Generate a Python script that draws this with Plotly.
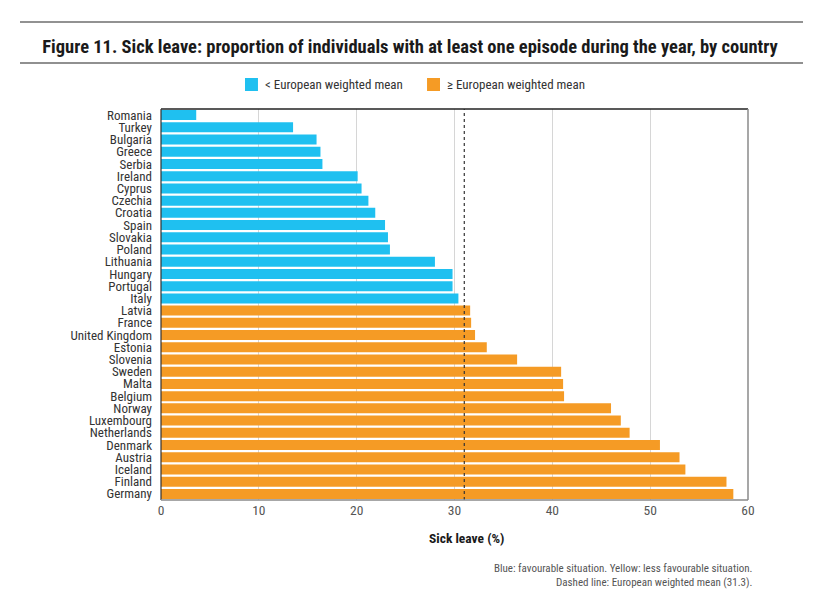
import plotly.graph_objects as go

# Figure 11: sick leave, share of individuals with at least one episode in the year
COUNTRIES = ['Romania', 'Turkey', 'Bulgaria', 'Greece', 'Serbia', 'Ireland', 'Cyprus',
             'Czechia', 'Croatia', 'Spain', 'Slovakia', 'Poland', 'Lithuania', 'Hungary',
             'Portugal', 'Italy', 'Latvia', 'France', 'United Kingdom', 'Estonia',
             'Slovenia', 'Sweden', 'Malta', 'Belgium', 'Norway', 'Luxembourg',
             'Netherlands', 'Denmark', 'Austria', 'Iceland', 'Finland', 'Germany']
SICK_LEAVE = [3.6, 13.5, 15.9, 16.3, 16.5, 20.1, 20.5, 21.2, 21.9, 22.9, 23.2, 23.4,
              28.0, 29.8, 29.8, 30.4, 31.6, 31.7, 32.1, 33.3, 36.4, 40.9, 41.1, 41.2,
              46.0, 47.0, 47.9, 51.0, 53.0, 53.6, 57.8, 58.5]
MEAN_LINE = 31.0
X_TICKS = [0, 10, 20, 30, 40, 50, 60]

BLUE = '#1fc0f0'
ORANGE = '#f59b25'
FONT = 'Liberation Sans Narrow, Roboto Condensed, Roboto, sans-serif'

below = [(c, v) for c, v in zip(COUNTRIES, SICK_LEAVE) if v < MEAN_LINE]
above = [(c, v) for c, v in zip(COUNTRIES, SICK_LEAVE) if v >= MEAN_LINE]

fig = go.Figure()
for rows, col in [(below, BLUE), (above, ORANGE)]:
    fig.add_trace(go.Bar(
        y=[r[0] for r in rows], x=[r[1] for r in rows],
        orientation='h', marker_color=col, marker_line_width=0,
        showlegend=False, hoverinfo='x+y',
    ))

fig.update_layout(
    width=820, height=593,
    margin=dict(l=161, r=72, t=109, b=93),
    paper_bgcolor='white', plot_bgcolor='white',
    font=dict(family=FONT, color='#333333', size=12),
    barmode='overlay', bargap=0.18,
    title=dict(text='<b>Figure 11. Sick leave: proportion of individuals with at least one episode during the year, by country</b>',
               x=0.5, xanchor='center', y=1 - 47 / 593, yanchor='middle',
               font=dict(family=FONT, size=18.5, color='#1a1a1a')),
)

fig.update_yaxes(
    categoryorder='array', categoryarray=COUNTRIES, autorange='reversed',
    tickmode='array', tickvals=COUNTRIES,
    showgrid=False, ticks='', ticklabelstandoff=8,
    tickfont=dict(size=13, color='#333333'),
)
fig.update_xaxes(
    range=[0, 60], tickvals=X_TICKS, showgrid=True, gridcolor='#d6d6d6', gridwidth=1,
    zeroline=False, tickfont=dict(size=13.5, color='#555555'),
)

# x axis title, sits a little right of centre in the original
fig.add_annotation(x=0.5196, y=-0.0972, xref='paper', yref='paper', text='<b>Sick leave (%)</b>',
                   showarrow=False, xanchor='center', yanchor='middle',
                   font=dict(size=13.5, color='#1a1a1a'))

# mean line
fig.add_vline(x=MEAN_LINE, line=dict(color='#333333', width=1.2, dash='3px,3px'), layer='above')

# box around plot: dark top and left, grey right and bottom
fig.add_shape(type='line', xref='paper', yref='paper', x0=0, x1=1, y0=1, y1=1, line=dict(color='#222222', width=1.5))
fig.add_shape(type='line', xref='paper', yref='paper', x0=0, x1=0, y0=0, y1=1, line=dict(color='#333333', width=1.2))
fig.add_shape(type='line', xref='paper', yref='paper', x0=1, x1=1, y0=0, y1=1, line=dict(color='#8a8a8a', width=1.5))
fig.add_shape(type='line', xref='paper', yref='paper', x0=0, x1=1, y0=0, y1=0, line=dict(color='#8a8a8a', width=1.5))

# title rules
fig.add_shape(type='line', xref='paper', yref='paper', x0=-0.2402, x1=1.0937, y0=1.2225, y1=1.2225,
              line=dict(color='#6e6e6e', width=1.5))
fig.add_shape(type='line', xref='paper', yref='paper', x0=-0.2402, x1=1.0937, y0=1.1176, y1=1.1176,
              line=dict(color='#222222', width=1.2))

# legend drawn by hand
for x0, col, label in [(0.1431, BLUE, '< European weighted mean'), (0.4532, ORANGE, '≥ European weighted mean')]:
    fig.add_shape(type='rect', xref='paper', yref='paper', x0=x0, x1=x0 + 0.0221, y0=1.0460, y1=1.0793,
                  fillcolor=col, line_width=0)
    fig.add_annotation(x=x0 + 0.0307, y=1.0627, xref='paper', yref='paper', text=label,
                       showarrow=False, xanchor='left', yanchor='middle',
                       font=dict(size=13, color='#333333'))

fig.add_annotation(
    x=1.012, y=-0.153, xref='paper', yref='paper', xanchor='right', yanchor='top', align='right',
    text='Blue: favourable situation. Yellow: less favourable situation.<br>Dashed line: European weighted mean (31.3).',
    showarrow=False, font=dict(size=11, color='#555555'),
)

fig.write_html('out.html', config={'displayModeBar': False},
               post_script="document.body.style.margin='0';")
